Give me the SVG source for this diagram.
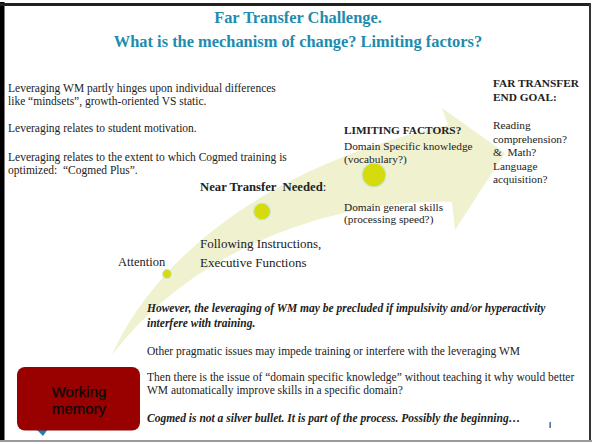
<svg xmlns="http://www.w3.org/2000/svg" width="592" height="444" viewBox="0 0 592 444">
  <defs>
    <style>
      .serif { font-family: "Liberation Serif", "Times New Roman", serif; fill: #222; }
      .title { font-family: "Liberation Serif", "Times New Roman", serif; font-weight: bold; font-size: 16.4px; fill: #1D8CAE; text-anchor: middle; }
      .body { font-size: 11.5px; }
      .side { font-size: 11.3px; }
      .bold { font-weight: bold; }
      .bi { font-weight: bold; font-style: italic; }
      .dot { fill: #D5DB0D; stroke: #CFE7E2; stroke-width: 1.2; }
      .band { fill: #EFF1CF; }
      .box-label { font-family: "Liberation Sans", Arial, sans-serif; font-size: 15px; fill: #0a0a0a; stroke: #0a0a0a; stroke-width: 0.25; text-anchor: middle; }
    </style>
  </defs>

  <!-- page -->
  <rect x="0" y="0" width="592" height="444" fill="#ffffff"/>
  <rect x="0" y="2" width="4.5" height="440" fill="#000"/>
  <rect x="0" y="3" width="591" height="3" fill="#222"/>
  <rect x="589" y="3" width="2" height="439" fill="#333"/>
  <rect x="0" y="440" width="592" height="2" fill="#9a9a9a"/>

  <!-- title -->
  <text class="title" x="298" y="23">Far Transfer Challenge.</text>
  <text class="title" x="298" y="46.5">What is the mechanism of change? Limiting factors?</text>

  <!-- curved progress arrow -->
  <g id="arrow">
    <path class="band" d="M112,355 C150,270 250,170 448,125 L442,108 L505,153 L455,230 L452,202 C370,198 210,228 112,355 Z"/>
  </g>

  <!-- stage markers -->
  <g id="node-attention">
    <circle class="dot" cx="167" cy="274" r="4.5"/>
    <text class="serif" x="118" y="266" font-size="12.5">Attention</text>
  </g>
  <g id="node-near-transfer">
    <circle class="dot" cx="262" cy="211.5" r="8.5"/>
    <text class="serif bold" x="200" y="191" font-size="12.7" xml:space="preserve">Near Transfer  Needed<tspan font-weight="normal">:</tspan></text>
    <text class="serif" x="200" y="248" font-size="13">Following Instructions,</text>
    <text class="serif" x="200" y="267" font-size="13">Executive Functions</text>
  </g>
  <g id="node-limiting-factors">
    <circle class="dot" cx="374" cy="175" r="12"/>
    <text class="serif side bold" x="344" y="134">LIMITING FACTORS?</text>
    <text class="serif side" x="344" y="150">Domain Specific knowledge</text>
    <text class="serif side" x="344" y="162.5">(vocabulary?)</text>
    <text class="serif side" x="344" y="211">Domain general skills</text>
    <text class="serif side" x="344" y="222.5">(processing speed?)</text>
  </g>
  <g id="node-far-transfer">
    <text class="serif side bold" x="493" y="87">FAR TRANSFER</text>
    <text class="serif side bold" x="493" y="101">END GOAL:</text>
    <text class="serif side" x="493" y="129">Reading</text>
    <text class="serif side" x="493" y="142.5">comprehension?</text>
    <text class="serif side" x="493" y="156" xml:space="preserve">&amp;  Math?</text>
    <text class="serif side" x="493" y="169.5">Language</text>
    <text class="serif side" x="493" y="183">acquisition?</text>
  </g>

  <!-- notes, upper left -->
  <g id="notes-top">
    <text class="serif body" x="8" y="91.5">Leveraging WM partly hinges upon individual differences</text>
    <text class="serif body" x="8" y="104.5">like “mindsets”, growth-oriented VS static.</text>
    <text class="serif body" x="8" y="132">Leveraging relates to student motivation.</text>
    <text class="serif body" x="8" y="161">Leveraging relates to the extent to which Cogmed training is</text>
    <text class="serif body" x="8" y="174" xml:space="preserve">optimized:  “Cogmed Plus”.</text>
  </g>

  <!-- notes, lower block -->
  <g id="notes-bottom">
    <text class="serif body bi" x="147" y="312">However, the leveraging of WM may be precluded if impulsivity and/or hyperactivity</text>
    <text class="serif body bi" x="147" y="327">interfere with training.</text>
    <text class="serif body" x="147" y="355">Other pragmatic issues may impede training or interfere with the leveraging WM</text>
    <text class="serif body" x="147" y="381">Then there is the issue of “domain specific knowledge” without teaching it why would better</text>
    <text class="serif body" x="147" y="394">WM automatically improve skills in a specific domain?</text>
    <text class="serif body bi" x="147" y="421.5">Cogmed is not a silver bullet. It is part of the process. Possibly the beginning…</text>
  </g>

  <!-- small mark near the lower right -->
  <rect x="549.5" y="422" width="1.2" height="6" fill="#1F3F8F"/>

  <!-- logo peeking out below the label box -->
  <path d="M36,429 L48,429 L43,436 Z" fill="#1F7FB8"/>

  <!-- working memory label -->
  <g id="node-working-memory">
    <rect x="17" y="367" width="123" height="63.5" rx="8" ry="8" fill="#990000"/>
    <text class="box-label" x="79" y="397">Working</text>
    <text class="box-label" x="79" y="414">memory</text>
  </g>
</svg>
